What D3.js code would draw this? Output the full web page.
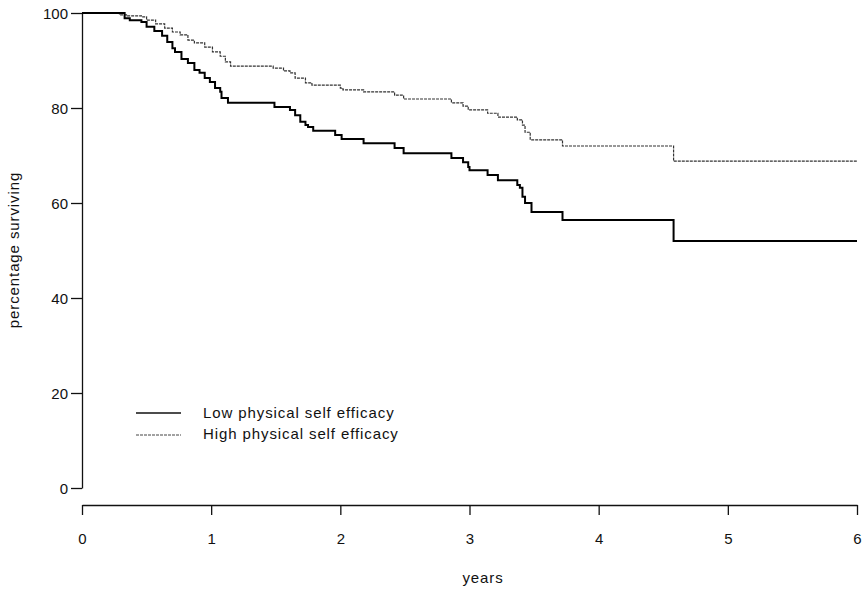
<!DOCTYPE html>
<html>
<head>
<meta charset="utf-8">
<style>
  body { margin: 0; background: #fff; }
  svg { display: block; }
  .axis text { font-family: 'Liberation Sans', Arial, sans-serif; font-size: 15px; fill: #111; }
  .axis path, .axis line { stroke: #111; stroke-width: 1.3; }
  .label { font-family: 'Liberation Sans', Arial, sans-serif; font-size: 15px; fill: #111; letter-spacing: 0.9px; }
</style>
</head>
<body>
<svg width="865" height="591"></svg>
<script src="https://cdn.jsdelivr.net/npm/d3@7"></script>
<script>

// Kaplan-Meier steps: time in years, percentage surviving
var lowT = [0, 0.33, 0.37, 0.46, 0.50, 0.56, 0.62, 0.66, 0.70, 0.72, 0.77, 0.82, 0.87, 0.91, 0.95, 0.99, 1.03, 1.07, 1.08, 1.13,
            1.49, 1.61, 1.65, 1.69, 1.73, 1.75, 1.79, 1.96, 2.01, 2.18, 2.42, 2.49, 2.86, 2.95, 2.99, 3.00, 3.14, 3.22,
            3.37, 3.39, 3.41, 3.43, 3.48, 3.72, 4.58, 6];
var lowP = [100, 98.9, 98.5, 98.1, 97.1, 96.2, 95.2, 93.9, 92.6, 91.8, 90.3, 89.5, 88.0, 87.4, 86.3, 85.5, 84.2, 83.4, 82.1, 81.1,
            80.2, 79.6, 78.5, 77.1, 76.4, 76.0, 75.2, 74.3, 73.5, 72.6, 71.6, 70.5, 69.5, 68.6, 67.6, 66.9, 65.9, 64.8,
            63.8, 63.2, 61.3, 60.0, 58.1, 56.4, 52.0, 52.0];

var highT = [0, 0.29, 0.35, 0.46, 0.50, 0.57, 0.64, 0.70, 0.76, 0.82, 0.87, 0.95, 1.01, 1.07, 1.11, 1.15, 1.48, 1.56, 1.61,
             1.65, 1.73, 1.78, 2.00, 2.02, 2.18, 2.42, 2.49, 2.86, 2.95, 2.99, 3.14, 3.22, 3.37, 3.41, 3.43, 3.47, 3.72, 4.58, 6];
var highP = [100, 99.6, 99.4, 99.2, 98.5, 97.7, 96.8, 96.0, 95.4, 94.3, 93.7, 92.8, 91.8, 90.9, 89.7, 88.8, 88.4, 87.8, 87.4,
             86.3, 85.3, 84.8, 84.2, 83.8, 83.4, 82.7, 81.9, 81.1, 80.4, 79.6, 78.9, 78.1, 77.5, 76.4, 74.9, 73.3, 72.0, 68.8, 68.8];

var xTicks = [0, 1, 2, 3, 4, 5, 6];
var yTicks = [0, 20, 40, 60, 80, 100];
var legendLabels = ["Low physical self efficacy", "High physical self efficacy"];

var svg = d3.select("svg");

var x = d3.scaleLinear().domain([0, 6]).range([82, 857]);
var y = d3.scaleLinear().domain([0, 100]).range([488, 13]);

// y axis
svg.append("g")
  .attr("class", "axis")
  .attr("transform", "translate(82,0)")
  .call(d3.axisLeft(y).tickValues(yTicks).tickFormat(d3.format("d"))
    .tickSize(11).tickSizeOuter(0).tickPadding(3))
  .selectAll("text").attr("dy", "0.36em");

// x axis, set apart below the plot
svg.append("g")
  .attr("class", "axis")
  .attr("transform", "translate(0,505)")
  .call(d3.axisBottom(x).tickValues(xTicks).tickFormat(d3.format("d"))
    .tickSize(10).tickSizeOuter(0).tickPadding(18));

svg.append("text")
  .attr("class", "label")
  .attr("x", 483)
  .attr("y", 583)
  .attr("text-anchor", "middle")
  .text("years");

svg.append("text")
  .attr("class", "label")
  .attr("transform", "translate(19,250) rotate(-90)")
  .attr("text-anchor", "middle")
  .text("percentage surviving");

var line = d3.line()
  .curve(d3.curveStepAfter)
  .x(function (d) { return x(d[0]); })
  .y(function (d) { return y(d[1]); });

var low = lowT.map(function (t, i) { return [t, lowP[i]]; });
var high = highT.map(function (t, i) { return [t, highP[i]]; });

svg.append("path")
  .datum(high)
  .attr("d", line)
  .attr("fill", "none")
  .attr("stroke", "#333")
  .attr("stroke-width", 1.2)
  .attr("stroke-dasharray", "3,1");

svg.append("path")
  .datum(low)
  .attr("d", line)
  .attr("fill", "none")
  .attr("stroke", "#000")
  .attr("stroke-width", 2);

// legend
var leg = svg.append("g").attr("transform", "translate(136,413)");
leg.append("line").attr("x1", 0).attr("x2", 45).attr("y1", 0).attr("y2", 0)
  .attr("stroke", "#111").attr("stroke-width", 1.3);
leg.append("line").attr("x1", 0).attr("x2", 45).attr("y1", 22).attr("y2", 22)
  .attr("stroke", "#444").attr("stroke-width", 1).attr("stroke-dasharray", "3,1");
leg.selectAll("text.leg")
  .data(legendLabels)
  .enter().append("text")
  .attr("class", "label leg")
  .attr("x", 67)
  .attr("y", function (d, i) { return 5 + i * 20.5; })
  .text(function (d) { return d; });

</script>
</body>
</html>
